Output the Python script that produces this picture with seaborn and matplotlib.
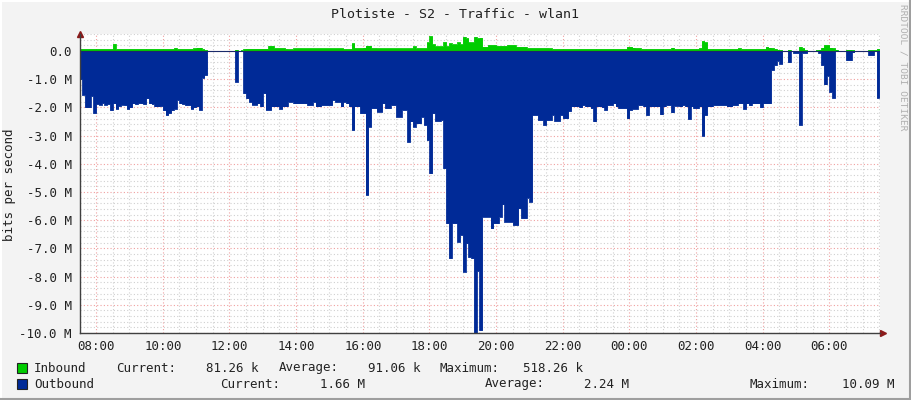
import numpy as np
import pandas as pd
import matplotlib
matplotlib.use('Agg')
import matplotlib.pyplot as plt
import seaborn as sns
from matplotlib.patches import Rectangle
from matplotlib.lines import Line2D

# RRD style 1-day traffic graph, 5 minute steps starting 07:30
START_HOUR = 7.5
STEP_MIN = 5

# outbound traffic in Mbit/s (drawn below zero), one row per hour
outbound = [
    1.0, 1.55, 2.0, 2.0, 1.6, 2.2, 1.88, 1.9, 1.85, 1.9, 1.88, 2.1,
    1.86, 2.05, 1.95, 1.9, 1.92, 2.05, 2.0, 1.86, 1.88, 1.85, 1.86, 1.88,
    1.68, 1.86, 1.88, 1.97, 1.97, 1.95, 2.1, 2.27, 2.2, 2.1, 2.05, 1.74,
    1.86, 1.88, 1.92, 1.92, 2.05, 2.0, 1.97, 2.09, 0.95, 0.85, 0.0, 0.0,
    0.0, 0.0, 0.0, 0.0, 0.0, 0.0, 0.0, 0.0, 1.09, 0.0, 0.0, 1.5,
    1.68, 1.8, 1.9, 1.9, 1.86, 1.97, 1.5, 2.09, 2.09, 1.97, 1.97, 1.97,
    2.05, 1.97, 1.97, 1.8, 1.8, 1.86, 1.86, 1.86, 1.86, 1.86, 1.92, 1.92,
    1.8, 1.97, 1.97, 1.92, 1.92, 1.92, 1.92, 1.74, 1.8, 1.8, 1.97, 1.8,
    1.86, 1.97, 2.8, 1.97, 1.97, 2.21, 2.21, 5.1, 2.68, 2.03, 2.03, 2.15,
    2.15, 1.86, 2.03, 2.03, 1.92, 1.92, 2.33, 2.33, 2.09, 2.09, 3.22, 2.5,
    2.68, 2.57, 2.57, 2.33, 2.62, 3.16, 4.34, 2.21, 2.48, 2.48, 2.45, 4.16,
    6.11, 7.35, 6.11, 6.11, 6.76, 6.52, 7.82, 6.82, 7.3, 7.35, 10.09, 7.8,
    9.9, 5.87, 5.87, 5.87, 6.29, 6.11, 6.11, 5.87, 5.44, 6.05, 6.05, 6.05,
    6.17, 6.17, 5.58, 5.93, 5.93, 5.2, 5.34, 2.27, 2.27, 2.45, 2.45, 2.62,
    2.45, 2.45, 2.27, 2.48, 2.48, 2.27, 2.39, 2.39, 2.13, 1.97, 1.97, 1.97,
    2.0, 1.92, 1.97, 1.97, 2.03, 2.5, 1.97, 1.97, 2.0, 2.09, 1.92, 1.92,
    1.86, 1.97, 2.03, 2.03, 2.03, 2.39, 2.09, 2.05, 2.05, 1.92, 1.92, 1.97,
    2.27, 1.97, 1.97, 1.97, 1.97, 2.25, 1.97, 1.92, 1.92, 2.18, 1.94, 1.94,
    1.97, 1.92, 1.97, 2.41, 1.97, 2.03, 2.03, 1.97, 3.0, 2.27, 1.97, 1.97,
    1.92, 1.92, 1.92, 1.92, 1.92, 1.97, 1.97, 1.92, 1.92, 1.86, 1.86, 2.05,
    1.86, 1.93, 1.86, 1.86, 1.86, 2.0, 1.86, 1.86, 1.86, 0.67, 0.5, 0.35,
    0.45, 0.0, 0.0, 0.4, 0.0, 0.07, 0.07, 2.62, 0.07, 0.07, 0.0, 0.0,
    0.0, 0.02, 0.07, 0.5, 1.19, 0.88, 1.45, 1.66, 0.0, 0.0, 0.0, 0.0,
    0.33, 0.33, 0.05, 0.0, 0.0, 0.0, 0.0, 0.0, 0.15, 0.15, 0.0, 1.66,
]

# inbound traffic in Mbit/s
inbound = [
    0.07, 0.07, 0.07, 0.07, 0.07, 0.07, 0.07, 0.07, 0.07, 0.07, 0.07, 0.07,
    0.25, 0.07, 0.07, 0.07, 0.07, 0.07, 0.07, 0.07, 0.07, 0.07, 0.07, 0.07,
    0.07, 0.07, 0.07, 0.07, 0.07, 0.07, 0.07, 0.07, 0.07, 0.07, 0.11, 0.07,
    0.07, 0.07, 0.07, 0.07, 0.07, 0.09, 0.12, 0.12, 0.06, 0.03, 0.0, 0.0,
    0.0, 0.0, 0.0, 0.0, 0.0, 0.0, 0.0, 0.0, 0.05, 0.0, 0.02, 0.07,
    0.08, 0.08, 0.08, 0.08, 0.08, 0.08, 0.08, 0.08, 0.18, 0.18, 0.1, 0.1,
    0.1, 0.1, 0.07, 0.06, 0.06, 0.09, 0.09, 0.09, 0.09, 0.09, 0.09, 0.09,
    0.09, 0.09, 0.09, 0.09, 0.09, 0.09, 0.09, 0.09, 0.09, 0.09, 0.09, 0.07,
    0.07, 0.07, 0.27, 0.1, 0.1, 0.1, 0.12, 0.19, 0.19, 0.1, 0.1, 0.09,
    0.09, 0.09, 0.09, 0.09, 0.09, 0.09, 0.09, 0.09, 0.09, 0.09, 0.09, 0.09,
    0.16, 0.1, 0.1, 0.1, 0.1, 0.3, 0.52, 0.23, 0.16, 0.16, 0.16, 0.31,
    0.16, 0.27, 0.23, 0.23, 0.3, 0.23, 0.5, 0.45, 0.3, 0.3, 0.5, 0.45,
    0.47, 0.15, 0.15, 0.21, 0.21, 0.21, 0.18, 0.18, 0.18, 0.18, 0.21, 0.21,
    0.21, 0.15, 0.15, 0.15, 0.15, 0.1, 0.1, 0.1, 0.1, 0.1, 0.1, 0.1,
    0.1, 0.09, 0.07, 0.07, 0.07, 0.07, 0.07, 0.07, 0.07, 0.07, 0.07, 0.07,
    0.07, 0.07, 0.07, 0.07, 0.07, 0.07, 0.07, 0.07, 0.07, 0.07, 0.07, 0.07,
    0.07, 0.07, 0.07, 0.07, 0.07, 0.15, 0.15, 0.12, 0.1, 0.1, 0.07, 0.07,
    0.07, 0.07, 0.07, 0.07, 0.07, 0.07, 0.07, 0.07, 0.07, 0.12, 0.07, 0.07,
    0.07, 0.07, 0.07, 0.07, 0.07, 0.07, 0.07, 0.1, 0.35, 0.3, 0.07, 0.07,
    0.07, 0.07, 0.07, 0.07, 0.07, 0.07, 0.07, 0.07, 0.07, 0.1, 0.07, 0.07,
    0.07, 0.07, 0.07, 0.07, 0.07, 0.07, 0.07, 0.15, 0.12, 0.1, 0.07, 0.05,
    0.03, 0.0, 0.0, 0.05, 0.0, 0.0, 0.0, 0.15, 0.1, 0.03, 0.0, 0.0,
    0.0, 0.03, 0.05, 0.12, 0.21, 0.21, 0.12, 0.1, 0.05, 0.0, 0.0, 0.0,
    0.05, 0.05, 0.03, 0.0, 0.0, 0.0, 0.0, 0.0, 0.03, 0.03, 0.03, 0.08,
]

series_names = ['Inbound', 'Outbound']
series_colors = ['#00CC00', '#002A97']
stat_labels = ['Current:', 'Average:', 'Maximum:']
inbound_stats = ['81.26 k', '91.06 k', '518.26 k']
outbound_stats = ['1.66 M', '2.24 M', '10.09 M']

x_ticks = [8, 10, 12, 14, 16, 18, 20, 22, 24, 26, 28, 30]
y_ticks = [0, -1, -2, -3, -4, -5, -6, -7, -8, -9, -10]

# build a step table (last value repeated so the final step has width)
hours = START_HOUR + np.arange(len(outbound) + 1) * STEP_MIN / 60
df = pd.DataFrame({
    'hour': hours,
    'inbound': inbound + [inbound[-1]],
    'outbound': [-v for v in outbound] + [-outbound[-1]],
})

sns.set_style('white')
plt.rcParams['font.family'] = ['DejaVu Sans Mono']
W, H = 911, 400
fig = plt.figure(figsize=(W / 100, H / 100), dpi=100, facecolor='#F3F3F3')
ax = fig.add_axes([80 / W, 67 / H, 800 / W, 299 / H])
ax.set_facecolor('white')

# areas
ax.fill_between(df['hour'], df['outbound'], 0, step='post',
                color=series_colors[1], lw=0, zorder=3)
ax.fill_between(df['hour'], df['inbound'], 0, step='post',
                color=series_colors[0], lw=0, zorder=3)
sns.lineplot(data=df, x='hour', y='outbound', drawstyle='steps-post',
             color=series_colors[1], lw=0.6, ax=ax, zorder=4)
sns.lineplot(data=df, x='hour', y='inbound', drawstyle='steps-post',
             color=series_colors[0], lw=0.6, ax=ax, zorder=4)
ax.axhline(0, color='#1A2A6A', lw=0.8, zorder=5)

x0 = START_HOUR + 1 / 60
ax.set_xlim(x0, x0 + 24)
ax.set_ylim(-10.0, 0.6)

# grid: minor gray every 30 min / 0.2 M, major red every 2 h / 1 M
ax.set_xticks(x_ticks)
ax.set_xticklabels(['%02d:00' % (h % 24) for h in x_ticks])
ax.set_xticks(np.arange(8, 32, 0.5), minor=True)
ax.set_yticks(y_ticks)
ax.set_yticklabels(['0.0' if v == 0 else '%.1f M' % v for v in y_ticks])
ax.set_yticks(np.arange(-10, 0.61, 0.2), minor=True)
ax.grid(which='minor', color='#D0D0D0', ls=(0, (1, 2)), lw=0.8, zorder=1)
ax.grid(which='major', color='#F0A0A0', ls=(0, (1, 2)), lw=0.8, zorder=2)
ax.set_axisbelow(True)
ax.tick_params(which='both', length=0, labelsize=9, colors='#222222', pad=6)
ax.tick_params(axis='x', pad=5)
ax.set_xlabel('')
ax.set_ylabel('')

for side in ['top', 'right']:
    ax.spines[side].set_visible(False)
for side in ['left', 'bottom']:
    ax.spines[side].set_color('#404040')
    ax.spines[side].set_linewidth(1.0)
    ax.spines[side].set_zorder(6)

# axis arrows
ax.plot([1.004], [0], marker='>', ms=4, color='#8B1A1A', transform=ax.transAxes, clip_on=False)
ax.plot([0], [1.0], marker='^', ms=4, color='#8B1A1A', transform=ax.transAxes, clip_on=False)

def fx(px):
    return px / W

def fy(py):
    return 1 - py / H

fig.text(fx(455), fy(14), 'Plotiste - S2 - Traffic - wlan1', ha='center', va='center',
         fontsize=9.5, color='#222222')
fig.text(fx(10), fy(185), 'bits per second', rotation=90, ha='center', va='center',
         fontsize=9, color='#222222')
fig.text(fx(903), fy(67), 'RRDTOOL / TOBI OETIKER', rotation=270, ha='center', va='center',
         fontsize=6.8, color='#B0B0B0')

# legend rows
rows = [
    (368, series_names[0], series_colors[0], [116, 279, 440], inbound_stats, [259, 421, 583]),
    (384, series_names[1], series_colors[1], [220, 485, 750], outbound_stats, [365, 629, 894]),
]
for ry, name, col, label_x, stats, stat_x in rows:
    fig.add_artist(Rectangle((fx(17), fy(ry + 5)), 10 / W, 10 / H, transform=fig.transFigure,
                             facecolor=col, edgecolor='#222222', lw=0.8))
    fig.text(fx(34), fy(ry), name, ha='left', va='center', fontsize=9, color='#222222')
    for lab, lx, val, vx in zip(stat_labels, label_x, stats, stat_x):
        fig.text(fx(lx), fy(ry), lab, ha='left', va='center', fontsize=9, color='#222222')
        fig.text(fx(vx), fy(ry), val, ha='right', va='center', fontsize=9, color='#222222')

# 3d-ish frame of the canvas
fig.add_artist(Line2D([0, 1], [fy(0.5), fy(0.5)], transform=fig.transFigure, color='white', lw=1.5))
fig.add_artist(Line2D([fx(0.5), fx(0.5)], [0, 1], transform=fig.transFigure, color='white', lw=1.5))
fig.add_artist(Line2D([0, 1], [fy(399), fy(399)], transform=fig.transFigure, color='#9E9E9E', lw=1.5))
fig.add_artist(Line2D([fx(910), fx(910)], [0, 1], transform=fig.transFigure, color='#9E9E9E', lw=1.5))

fig.savefig('out.png', dpi=100, facecolor=fig.get_facecolor())
